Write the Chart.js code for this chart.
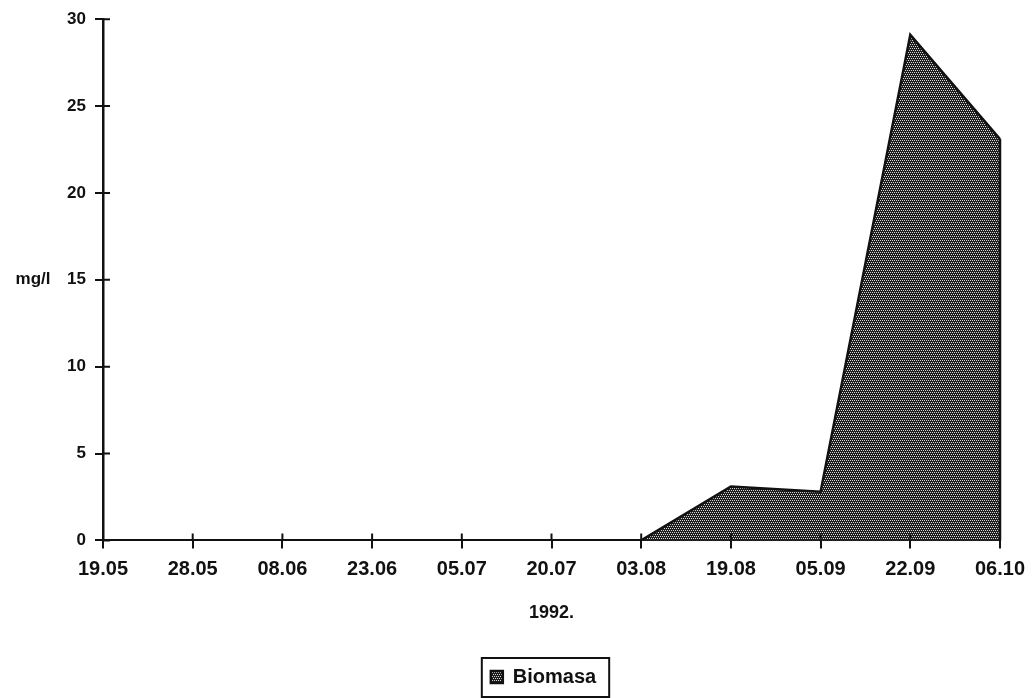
<!DOCTYPE html>
<html>
<head>
<meta charset="utf-8">
<script src="https://cdn.jsdelivr.net/npm/chart.js@4.4.1/dist/chart.umd.min.js"></script>
<style>
  html, body { margin: 0; padding: 0; background: #fff; }
  #wrap { width: 1036px; height: 698px; }
</style>
</head>
<body>
<div id="wrap"><canvas id="chart"></canvas></div>
<script>
    'use strict';

    // Data
    const dates = ['19.05', '28.05', '08.06', '23.06', '05.07', '20.07', '03.08', '19.08', '05.09', '22.09', '06.10'];
    const biomasa = [0, 0, 0, 0, 0, 0, 0, 3.1, 2.8, 29.1, 23.1];
    const yTicks = [0, 5, 10, 15, 20, 25, 30];

    const FONT = 'Liberation Sans';
    const INK = '#111';

    /**
     * Dotted grey fill like the printed halftone
     */
    function makePattern() {
        const c = document.createElement('canvas');
        c.width = 4;
        c.height = 4;
        const g = c.getContext('2d');
        g.fillStyle = '#1e1e1e';
        g.fillRect(0, 0, 4, 4);
        g.fillStyle = '#d8d8d8';
        g.fillRect(0, 0, 1, 1);
        g.fillRect(2, 0, 1, 1);
        g.fillRect(1, 2, 1, 1);
        g.fillRect(3, 2, 1, 1);
        return g.createPattern(c, 'repeat');
    }

    const extras = {
        id: 'extras',
        beforeDraw(chart) {
            // keep the legend item roughly under the middle of the plot
            const legend = chart.legend;
            const hb = legend.legendHitBoxes[0];
            if (!hb) return;
            const target = (chart.chartArea.left + chart.chartArea.right) / 2 - 8;
            const d = target - (hb.left + hb.width / 2);
            legend.left += d;
            legend.right += d;
            hb.left += d;
        },
        afterDatasetsDraw(chart) {
            const ctx = chart.ctx;
            const x = chart.scales.x;
            const y = chart.scales.y;
            const area = chart.chartArea;
            ctx.save();
            ctx.strokeStyle = INK;

            // right edge of the filled area
            const pts = chart.getDatasetMeta(0).data;
            const last = pts[pts.length - 1];
            ctx.lineWidth = 2.5;
            ctx.beginPath();
            ctx.moveTo(last.x, last.y);
            ctx.lineTo(last.x, y.getPixelForValue(0));
            ctx.stroke();

            // tick marks cross the axes
            ctx.lineWidth = 2;
            ctx.beginPath();
            x.ticks.forEach((t, i) => {
                const px = x.getPixelForTick(i);
                ctx.moveTo(px, area.bottom);
                ctx.lineTo(px, area.bottom - 7);
            });
            y.ticks.forEach((t, i) => {
                const py = y.getPixelForTick(i);
                ctx.moveTo(area.left, py);
                ctx.lineTo(area.left + 7, py);
            });
            ctx.stroke();
            ctx.restore();
        },
        afterDraw(chart) {
            const ctx = chart.ctx;
            const y = chart.scales.y;
            ctx.save();
            ctx.fillStyle = INK;
            ctx.font = 'bold 17px "' + FONT + '"';
            ctx.textAlign = 'center';
            ctx.textBaseline = 'middle';
            ctx.fillText('mg/l', 33, y.getPixelForValue(15));

            // frame round the legend
            const hb = chart.legend.legendHitBoxes[0];
            if (hb) {
                ctx.strokeStyle = INK;
                ctx.lineWidth = 2;
                ctx.strokeRect(hb.left - 9, hb.top - 9, hb.width + 22, hb.height + 19);
            }
            ctx.restore();
        }
    };

    const ctx = document.getElementById('chart').getContext('2d');
    const fillPattern = makePattern();

    new Chart(ctx, {
        type: 'line',
        data: {
            labels: dates,
            datasets: [{
                label: 'Biomasa',
                data: biomasa,
                borderColor: INK,
                borderWidth: 2.5,
                backgroundColor: fillPattern,
                fill: 'origin',
                tension: 0,
                pointRadius: 0
            }]
        },
        options: {
            responsive: true,
            maintainAspectRatio: false,
            animation: false,
            layout: {
                padding: { top: 17, right: 36, bottom: 1, left: 0 }
            },
            plugins: {
                legend: {
                    position: 'bottom',
                    labels: {
                        color: INK,
                        boxWidth: 12,
                        boxHeight: 12,
                        padding: 10,
                        font: { family: FONT, size: 20, weight: 'bold' }
                    }
                },
                tooltip: { enabled: false }
            },
            scales: {
                x: {
                    offset: false,
                    grid: {
                        drawOnChartArea: false,
                        color: INK,
                        lineWidth: 2,
                        tickLength: 8
                    },
                    border: { color: INK, width: 2 },
                    ticks: {
                        color: INK,
                        padding: 9,
                        maxRotation: 0,
                        autoSkip: false,
                        font: { family: FONT, size: 20, weight: 'bold' }
                    },
                    title: {
                        display: true,
                        text: '1992.',
                        color: INK,
                        padding: { top: 12, bottom: 33 },
                        font: { family: FONT, size: 18, weight: 'bold' }
                    }
                },
                y: {
                    min: 0,
                    max: 30,
                    afterFit(scale) {
                        scale.width = 103;
                    },
                    afterBuildTicks(scale) {
                        scale.ticks = yTicks.map(v => ({ value: v }));
                    },
                    grid: {
                        drawOnChartArea: false,
                        color: INK,
                        lineWidth: 2,
                        tickLength: 8
                    },
                    border: { color: INK, width: 2.5 },
                    ticks: {
                        color: INK,
                        padding: 9,
                        font: { family: FONT, size: 17, weight: 'bold' }
                    }
                }
            }
        },
        plugins: [extras]
    });
</script>
</body>
</html>
